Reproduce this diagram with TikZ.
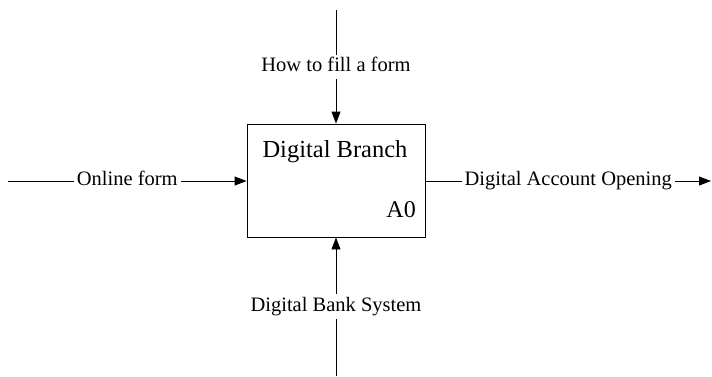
\documentclass[tikz,border=0pt]{standalone}
\usepackage{fontspec}
\setmainfont{Liberation Serif}
\usetikzlibrary{arrows.meta}
\begin{document}
\begin{tikzpicture}[x=1pt,y=-1pt,
  conn/.style={line width=0.9pt,-{Triangle[length=12pt,width=9pt]}},
  lbl/.style={fill=white,inner sep=3pt,text height=14pt,text depth=4.5pt,font=\fontsize{20.5}{24}\selectfont},
  actbox/.style={draw,line width=0.9pt,minimum width=178pt,minimum height=113pt,inner sep=0pt}]
\useasboundingbox (0,0) rectangle (712,376);
\node[actbox] (box) at (336,180.5) {};
\node[font=\fontsize{24.5}{28}\selectfont] (title) at (335,152) {Digital Branch};
\node[font=\fontsize{24}{28}\selectfont,anchor=east,inner sep=0pt] (a0) at (416,209.5) {A0};
\coordinate (inS) at (8,181);
\coordinate (outE) at (711,181);
\coordinate (ctlS) at (336,10);
\coordinate (mechS) at (336,376);
\draw[conn] (inS) -- node[lbl] (inl) {Online form} (box.west |- inS);
\draw[conn] (box.east |- outE) -- node[lbl] (outl) {Digital Account Opening} (outE);
\draw[conn] (ctlS) -- node[lbl] (ctll) {How to fill a form} (box.north);
\draw[conn] (mechS) -- node[lbl] (mechl) {Digital Bank System} (box.south);
\end{tikzpicture}
\end{document}
